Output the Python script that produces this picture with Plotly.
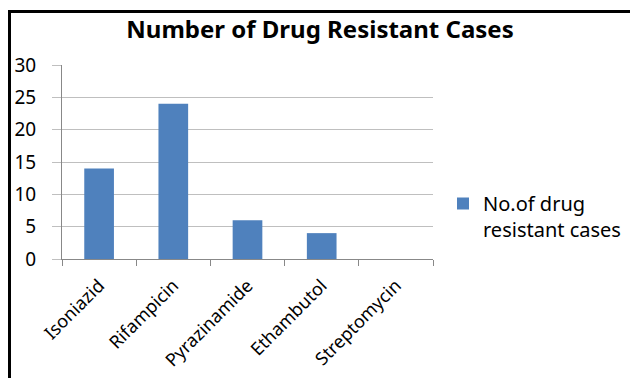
import plotly.graph_objects as go

# Drug resistance counts per first-line drug
drugs = ["Isoniazid", "Rifampicin", "Pyrazinamide", "Ethambutol", "Streptomycin"]
cases = [14, 24, 6, 4, 0]
series_name = "No.of drug<br>resistant cases"
y_ticks = [0, 5, 10, 15, 20, 25, 30]

W, H = 630, 378
ML, MR, MT, MB = 62, 197, 65, 119
pw = W - ML - MR
ph = H - MT - MB

def px_x(x):
    return (x - ML) / pw

def px_y(y):
    return (H - MB - y) / ph

FONT = "Noto Sans"

fig = go.Figure(
    go.Bar(
        x=drugs,
        y=cases,
        name=series_name,
        marker=dict(color="#4F81BD", line=dict(width=0)),
        showlegend=True,
    )
)

fig.update_layout(
    width=W,
    height=H,
    margin=dict(l=ML, r=MR, t=MT, b=MB, autoexpand=False),
    paper_bgcolor="white",
    plot_bgcolor="white",
    bargap=0.6,
    title=dict(
        text="<b>Number of Drug Resistant Cases</b>",
        font=dict(family=FONT, size=24, color="black"),
        x=px_x(320),
        xref="paper",
        xanchor="center",
        y=1 - 30 / H,
        yanchor="middle",
    ),
    font=dict(family=FONT, color="black"),
    showlegend=True,
    legend=dict(
        x=px_x(443),
        xanchor="left",
        y=px_y(184),
        yanchor="top",
        valign="top",
        font=dict(family=FONT, size=20, color="black"),
        bgcolor="rgba(0,0,0,0)",
    ),
    xaxis=dict(
        type="category",
        range=[-0.5, 4.5],
        automargin=False,
        showline=True,
        linecolor="#888888",
        linewidth=1,
        ticks="outside",
        tickson="boundaries",
        ticklen=6,
        tickcolor="#888888",
        tickangle=-45,
        ticklabelstandoff=8,
        tickfont=dict(family=FONT, size=18, color="black"),
        showgrid=False,
        zeroline=False,
    ),
    yaxis=dict(
        range=[0, 30],
        automargin=False,
        tickvals=y_ticks,
        ticks="outside",
        ticklen=9,
        tickcolor="#BFBFBF",
        showline=True,
        linecolor="#888888",
        linewidth=1,
        showgrid=True,
        gridcolor="#BFBFBF",
        gridwidth=1,
        zeroline=False,
        ticklabelstandoff=12,
        tickfont=dict(family=FONT, size=19, color="black"),
    ),
    shapes=[
        # outer frame: left and top edges
        dict(type="line", xref="paper", yref="paper",
             x0=px_x(9.5), x1=px_x(9.5), y0=px_y(10), y1=px_y(400),
             line=dict(color="black", width=3)),
        dict(type="line", xref="paper", yref="paper",
             x0=px_x(8), x1=px_x(640), y0=px_y(11.5), y1=px_y(11.5),
             line=dict(color="black", width=3)),
    ],
)

fig.write_html("out.html")
